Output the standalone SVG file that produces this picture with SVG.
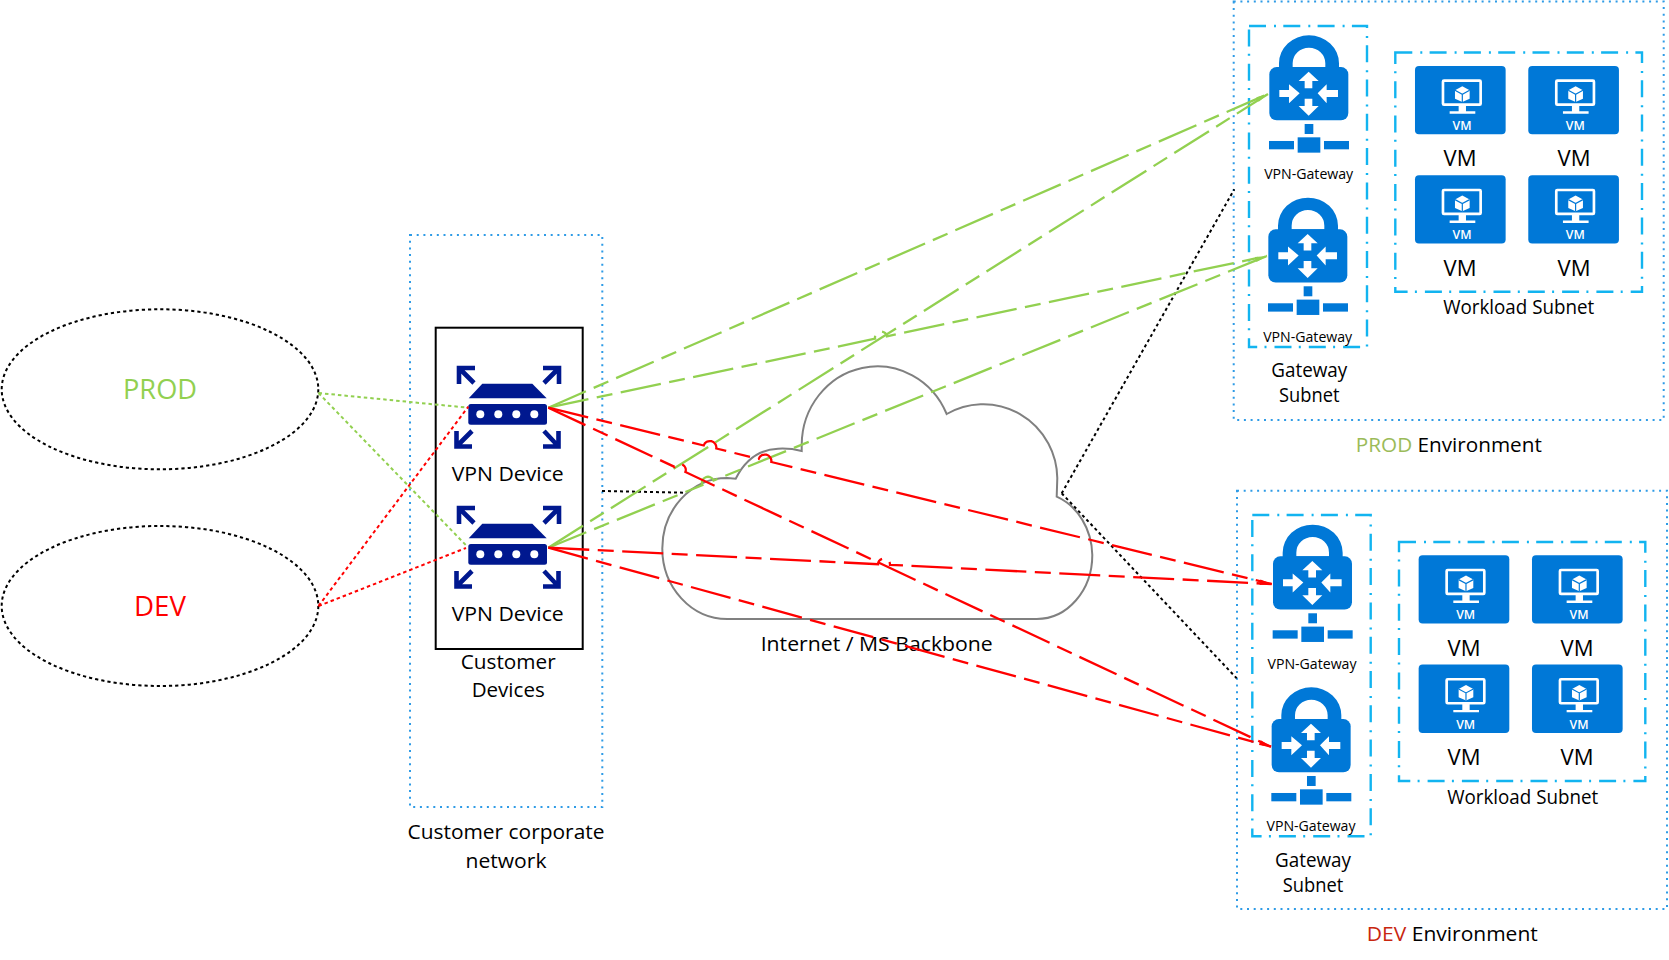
<svg xmlns="http://www.w3.org/2000/svg" xmlns:xlink="http://www.w3.org/1999/xlink" width="1669" height="960" viewBox="0 0 1669 960">
<style>
text{font-family:"Open Sans","Noto Sans","Liberation Sans",sans-serif;fill:#000;text-anchor:middle;font-size:20px}
.env{fill:none;stroke:#2e9be6;stroke-width:2;stroke-dasharray:2 4.7}
.sub{fill:none;stroke:#12b4f0;stroke-width:2.4;stroke-dasharray:17 8 2 7.3}
.ell{fill:#fff;stroke:#000;stroke-width:2;stroke-dasharray:3.2 3}
.blk{fill:none;stroke:#000;stroke-width:2;stroke-dasharray:3 3}
.gd{fill:none;stroke:#92d050;stroke-width:2;stroke-dasharray:3.5 3}
.rd{fill:none;stroke:#f00;stroke-width:2;stroke-dasharray:3.5 3}
.gl{fill:none;stroke:#92d050;stroke-width:2.3;stroke-dasharray:41 8.5 16 8.5;marker-end:url(#ag)}
.rl{fill:none;stroke:#f00;stroke-width:2.3;stroke-dasharray:41 8.5 16 8.5;marker-end:url(#ar)}
.sm{font-size:14px}
.vmt{font-size:12px;font-weight:600;fill:#fff}
.b{fill:#0078d7}
.w{fill:#fff}
.da{fill:none;stroke:#00188f;stroke-width:4.6}
</style>
<defs>
<marker id="ag" markerUnits="userSpaceOnUse" markerWidth="16" markerHeight="6" viewBox="0 -3 16 6" refX="14" refY="0" orient="auto"><path d="M2 -1.6L14 0L2 1.6z" fill="#92d050"/></marker>
<marker id="ar" markerUnits="userSpaceOnUse" markerWidth="16" markerHeight="6" viewBox="0 -3 16 6" refX="14" refY="0" orient="auto"><path d="M2 -1.6L14 0L2 1.6z" fill="#f00"/></marker>
<g id="gw">
<rect class="b" x="148" y="201" width="237" height="160" rx="22"/>
<path class="b" fill-rule="evenodd" d="M177 205V190A90 84 0 0 1 357 190V205ZM218 201H316V190A49 47 0 0 0 218 190Z"/>
<path class="w" d="M266 215L296 243H277V265H254V243H236ZM254 296H277V318H296L266 347L236 318H254ZM293 280L320 253V270H354V291H320V310ZM239 280L207 253V270H178V291H207V310Z"/>
<rect class="b" x="254" y="372" width="26" height="30"/>
<rect class="b" x="233" y="412" width="68" height="46"/>
<rect class="b" x="147" y="423" width="75" height="25"/>
<rect class="b" x="312" y="423" width="75" height="25"/>
</g>
<g id="vm">
<rect class="b" x="585" y="198" width="272" height="205" rx="12"/>
<rect x="669" y="242" width="113" height="72" rx="3" fill="none" stroke="#fff" stroke-width="8"/>
<path class="w" d="M716 316H738V334H766V341H689V334H716Z"/>
<path class="w" d="M727 259L749 271V296L727 306L705 296V271Z"/>
<path d="M705 271L727 283L749 271M727 283V306" fill="none" stroke="#0078d7" stroke-width="3.5"/>
</g>
<g id="dev">
<path class="da" d="M475 368H459V384M459 368L474 383M543 368H559V384M559 368L544 383M472 446.5H456.5V431M456.5 446.5L472 431M543 446.5H558.5V431M558.5 446.5L544 431"/>
<path fill="#00188f" d="M482.3 383.7H532.3L546.7 398.3H468.7Z"/>
<rect fill="#00188f" x="468.3" y="404" width="78.7" height="20.7" rx="2.5"/>
<circle class="w" cx="480.3" cy="414.3" r="4"/><circle class="w" cx="498.3" cy="414.3" r="4"/><circle class="w" cx="516.3" cy="414.3" r="4"/><circle class="w" cx="534.3" cy="414.3" r="4"/>
</g>
</defs>
<rect width="1669" height="960" fill="#fff"/>

<g id="prod-ellipse"><ellipse class="ell" cx="160" cy="389.3" rx="158.3" ry="80"/><text x="160" y="398.7" style="font-size:27px;fill:#92d050" textLength="74" lengthAdjust="spacingAndGlyphs">PROD</text></g>
<g id="dev-ellipse"><ellipse class="ell" cx="160" cy="606" rx="158.3" ry="80"/><text x="160" y="616" style="font-size:27px;fill:#f00" textLength="52" lengthAdjust="spacingAndGlyphs">DEV</text></g>

<g id="customer-network"><rect class="env" x="410" y="235" width="192.3" height="572"/>
<text x="506" y="839.3" textLength="197" lengthAdjust="spacingAndGlyphs">Customer corporate</text><text x="506" y="868.3" textLength="81" lengthAdjust="spacingAndGlyphs">network</text></g>
<g id="customer-devices"><rect x="435.7" y="327.7" width="147" height="321.3" fill="none" stroke="#000" stroke-width="2"/>
<text x="508.2" y="669.3" textLength="95" lengthAdjust="spacingAndGlyphs">Customer</text><text x="508.2" y="696.7" textLength="73" lengthAdjust="spacingAndGlyphs">Devices</text></g>
<g id="vpn-device-1"><use xlink:href="#dev"/><text x="507.7" y="481" textLength="112" lengthAdjust="spacingAndGlyphs">VPN Device</text></g>
<g id="vpn-device-2"><use xlink:href="#dev" y="140"/><text x="507.7" y="621" textLength="112" lengthAdjust="spacingAndGlyphs">VPN Device</text></g>

<g id="cloud"><path fill="#fff" stroke="#808080" stroke-width="2" d="M727.3 619H1036.7A55.6 64 0 0 0 1092.3 555A55.6 64 0 0 0 1056.7 496.7L1057.3 478A74 75 0 0 0 946.7 414A75.6 79 0 0 0 801.7 445V451Q790 448 778 448.7Q750 450 735.7 478.7L727.3 478A65 70.5 0 0 0 727.3 619Z"/>
<text x="876.7" y="651" textLength="232" lengthAdjust="spacingAndGlyphs">Internet / MS Backbone</text></g>

<g id="prod-environment"><rect class="env" x="1233.7" y="1.5" width="430" height="418.5"/>
<text x="1448.8" y="451.7" textLength="186" lengthAdjust="spacingAndGlyphs"><tspan style="fill:#9bbb59">PROD</tspan> Environment</text></g>
<g id="prod-gateway-subnet"><rect class="sub" x="1249" y="26" width="118" height="321"/>
<text x="1309.3" y="377.3" textLength="76" lengthAdjust="spacingAndGlyphs">Gateway</text><text x="1309.3" y="402" textLength="60.5" lengthAdjust="spacingAndGlyphs">Subnet</text></g>
<g id="prod-gateway-1"><use xlink:href="#gw" transform="translate(1220 0) scale(.3333)"/><text class="sm" x="1308.7" y="179" textLength="89" lengthAdjust="spacingAndGlyphs">VPN-Gateway</text></g>
<g id="prod-gateway-2"><use xlink:href="#gw" transform="translate(1219 162.3) scale(.3333)"/><text class="sm" x="1307.7" y="341.7" textLength="89" lengthAdjust="spacingAndGlyphs">VPN-Gateway</text></g>
<g id="prod-workload-subnet"><rect class="sub" x="1395.3" y="52.5" width="246.7" height="239.2"/>
<text x="1518.7" y="314" textLength="151" lengthAdjust="spacingAndGlyphs">Workload Subnet</text></g>
<g id="prod-vm-1"><use xlink:href="#vm" transform="translate(1220 0) scale(.3333)"/><text class="vmt" x="1462" y="130" textLength="19" lengthAdjust="spacingAndGlyphs">VM</text><text x="1460" y="165.7" style="font-size:21px" textLength="33" lengthAdjust="spacingAndGlyphs">VM</text></g>
<g id="prod-vm-2"><use xlink:href="#vm" transform="translate(1333.3 0) scale(.3333)"/><text class="vmt" x="1575.3" y="130" textLength="19" lengthAdjust="spacingAndGlyphs">VM</text><text x="1574" y="165.7" style="font-size:21px" textLength="33" lengthAdjust="spacingAndGlyphs">VM</text></g>
<g id="prod-vm-3"><use xlink:href="#vm" transform="translate(1220 109.3) scale(.3333)"/><text class="vmt" x="1462" y="239.3" textLength="19" lengthAdjust="spacingAndGlyphs">VM</text><text x="1460" y="275.7" style="font-size:21px" textLength="33" lengthAdjust="spacingAndGlyphs">VM</text></g>
<g id="prod-vm-4"><use xlink:href="#vm" transform="translate(1333.3 109.3) scale(.3333)"/><text class="vmt" x="1575.3" y="239.3" textLength="19" lengthAdjust="spacingAndGlyphs">VM</text><text x="1574" y="275.7" style="font-size:21px" textLength="33" lengthAdjust="spacingAndGlyphs">VM</text></g>

<g id="dev-environment"><rect class="env" x="1237" y="490.7" width="430" height="418.3"/>
<text x="1452.3" y="941" textLength="171" lengthAdjust="spacingAndGlyphs"><tspan style="fill:#c8260f">DEV</tspan> Environment</text></g>
<g id="dev-gateway-subnet"><rect class="sub" x="1252.3" y="515" width="118.4" height="321.3"/>
<text x="1313" y="866.7" textLength="76" lengthAdjust="spacingAndGlyphs">Gateway</text><text x="1313" y="892.3" textLength="60.5" lengthAdjust="spacingAndGlyphs">Subnet</text></g>
<g id="dev-gateway-1"><use xlink:href="#gw" transform="translate(1223.67 489.3) scale(.3333)"/><text class="sm" x="1312" y="669" textLength="89" lengthAdjust="spacingAndGlyphs">VPN-Gateway</text></g>
<g id="dev-gateway-2"><use xlink:href="#gw" transform="translate(1222.33 652) scale(.3333)"/><text class="sm" x="1311" y="830.7" textLength="89" lengthAdjust="spacingAndGlyphs">VPN-Gateway</text></g>
<g id="dev-workload-subnet"><rect class="sub" x="1399" y="542" width="246.3" height="239"/>
<text x="1522.7" y="804" textLength="151" lengthAdjust="spacingAndGlyphs">Workload Subnet</text></g>
<g id="dev-vm-1"><use xlink:href="#vm" transform="translate(1223.67 489.3) scale(.3333)"/><text class="vmt" x="1465.7" y="619.3" textLength="19" lengthAdjust="spacingAndGlyphs">VM</text><text x="1464" y="655.7" style="font-size:21px" textLength="33" lengthAdjust="spacingAndGlyphs">VM</text></g>
<g id="dev-vm-2"><use xlink:href="#vm" transform="translate(1337 489.3) scale(.3333)"/><text class="vmt" x="1579" y="619.3" textLength="19" lengthAdjust="spacingAndGlyphs">VM</text><text x="1577" y="655.7" style="font-size:21px" textLength="33" lengthAdjust="spacingAndGlyphs">VM</text></g>
<g id="dev-vm-3"><use xlink:href="#vm" transform="translate(1223.67 598.6) scale(.3333)"/><text class="vmt" x="1465.7" y="728.6" textLength="19" lengthAdjust="spacingAndGlyphs">VM</text><text x="1464" y="765" style="font-size:21px" textLength="33" lengthAdjust="spacingAndGlyphs">VM</text></g>
<g id="dev-vm-4"><use xlink:href="#vm" transform="translate(1337 598.6) scale(.3333)"/><text class="vmt" x="1579" y="728.6" textLength="19" lengthAdjust="spacingAndGlyphs">VM</text><text x="1577" y="765" style="font-size:21px" textLength="33" lengthAdjust="spacingAndGlyphs">VM</text></g>

<g id="connectors">
<path class="gd" d="M318.5 393L468 407.7"/>
<path class="gd" d="M318.5 393L466.7 546"/>
<path class="rd" d="M318.5 606L468.3 406.7"/>
<path class="rd" d="M318.5 606L466 548"/>
<path class="blk" d="M602 491L685 492.7"/>
<path class="blk" d="M1061.7 493.3L1234.3 189.3"/>
<path class="blk" d="M1061.7 493.3L1236.7 678.3"/>
<path class="gl" d="M548.3 407.7L1268 94"/>
<path class="gl" d="M548.3 547.7L1268 94"/>
<path class="gl" d="M548.3 407.7L875.1 338.7A6 6 0 0 1 886.9 336.3L1267 256"/>
<path class="gl" d="M548.3 547.7L702.4 485.1A6 6 0 0 1 713.6 480.5L1267 256"/>
<path class="rl" d="M548.3 407.7L703.7 445.5A6.5 6.5 0 0 1 716.3 448.5L758.7 459A6.5 6.5 0 0 1 771.3 462L1271.7 584"/>
<path class="rl" d="M548.3 407.7L674.6 466.9A6 6 0 0 1 685.4 472L1271 746.7"/>
<path class="rl" d="M548.3 547.7L878 564.2A6 6 0 0 1 890 564.8L1271.7 584"/>
<path class="rl" d="M548.3 547.7L1271 746.7"/>
</g>
</svg>
